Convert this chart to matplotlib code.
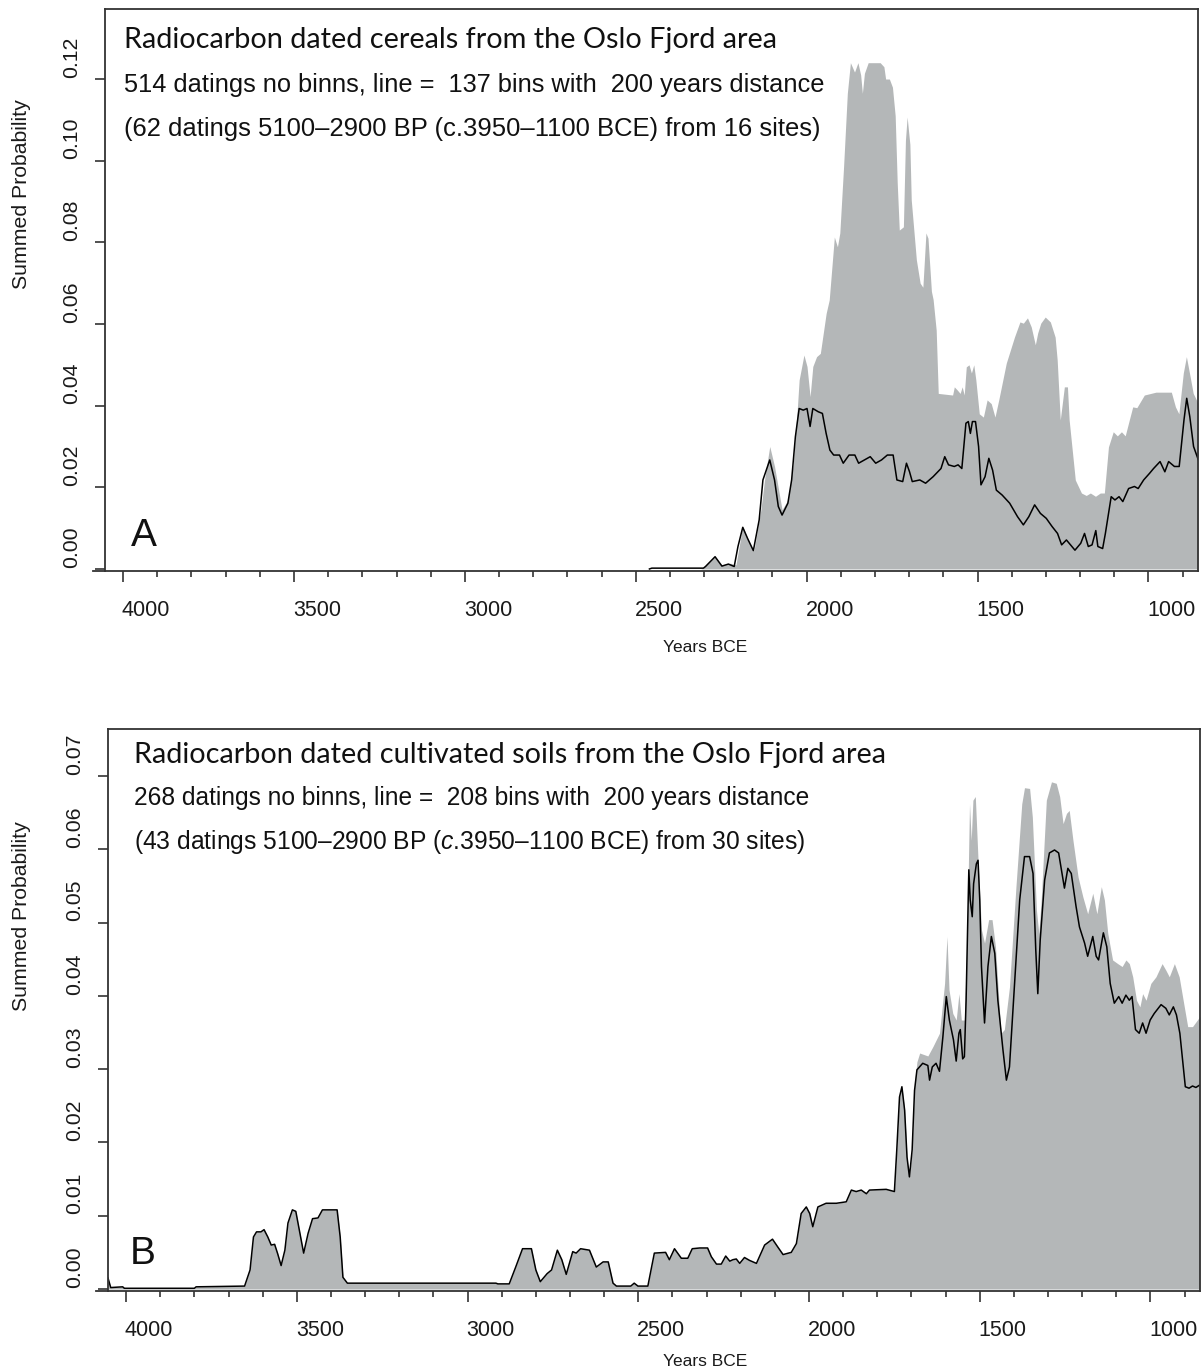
import numpy as np
import matplotlib.pyplot as plt
from matplotlib.transforms import ScaledTranslation

plt.rcParams['font.family'] = ['Liberation Sans', 'DejaVu Sans']
plt.rcParams['mathtext.fontset'] = 'custom'
plt.rcParams['mathtext.rm'] = 'Liberation Sans'
plt.rcParams['mathtext.it'] = 'Liberation Sans:italic'

# ---- panel A: cereals (years BCE, summed probability) ----
cereal_fill_years = [4053, 2310, 2302, 2268, 2248, 2223, 2207, 2187, 2167, 2154, 2134, 2122, 2108, 2094,
                     2072, 2055, 2039, 2027, 2022, 2008, 1999, 1990, 1982, 1971, 1960, 1943, 1934, 1919,
                     1910, 1903, 1892, 1881, 1872, 1860, 1850, 1842, 1837, 1831, 1820, 1808, 1785, 1774,
                     1769, 1758, 1749, 1741, 1735, 1729, 1717, 1711, 1706, 1698, 1694, 1679, 1668, 1660,
                     1651, 1645, 1635, 1630, 1621, 1615, 1573, 1568, 1559, 1551, 1545, 1539, 1533, 1525,
                     1518, 1511, 1505, 1495, 1483, 1472, 1460, 1449, 1438, 1416, 1392, 1376, 1366, 1354,
                     1343, 1331, 1324, 1315, 1302, 1287, 1273, 1267, 1258, 1246, 1237, 1232, 1214, 1196,
                     1182, 1170, 1155, 1141, 1129, 1117, 1103, 1091, 1079, 1068, 1056, 1046, 1034, 1012,
                     978, 933, 921, 911, 898, 889, 880, 869, 855]
cereal_fill_prob = [0, 0, 0.0003, 0.0030, 0.0010, 0.0014, 0.0010, 0.0105, 0.0063, 0.0045, 0.0145, 0.0226,
                    0.0300, 0.0251, 0.0145, 0.0169, 0.0259, 0.0397, 0.0463, 0.0524, 0.0496, 0.0422, 0.0496,
                    0.0520, 0.0528, 0.0626, 0.0659, 0.0813, 0.0789, 0.0823, 0.0985, 0.1165, 0.1240, 0.1217,
                    0.1240, 0.1210, 0.1165, 0.1214, 0.1240, 0.1240, 0.1240, 0.1230, 0.1200, 0.1200, 0.1180,
                    0.1110, 0.0945, 0.0830, 0.0838, 0.1050, 0.1107, 0.1040, 0.0904, 0.0757, 0.0700, 0.0690,
                    0.0823, 0.0810, 0.0680, 0.0660, 0.0585, 0.0430, 0.0426, 0.0446, 0.0438, 0.0430, 0.0446,
                    0.0426, 0.0495, 0.0500, 0.0480, 0.0500, 0.0463, 0.0380, 0.0372, 0.0414, 0.0405, 0.0372,
                    0.0414, 0.0504, 0.0568, 0.0605, 0.0602, 0.0615, 0.0593, 0.0549, 0.0578, 0.0602, 0.0617,
                    0.0605, 0.0568, 0.0512, 0.0365, 0.0446, 0.0446, 0.0365, 0.0218, 0.0186, 0.0180, 0.0186,
                    0.0178, 0.0186, 0.0186, 0.0299, 0.0336, 0.0326, 0.0336, 0.0326, 0.0365, 0.0397, 0.0395,
                    0.0426, 0.0433, 0.0433, 0.0397, 0.0380, 0.0480, 0.0520, 0.0480, 0.0430, 0.0406]

cereal_line_years = [2460, 2453, 2302, 2296, 2268, 2248, 2229, 2212, 2201, 2187, 2173, 2156, 2139, 2128,
                     2108, 2094, 2083, 2072, 2055, 2044, 2033, 2022, 2010, 1999, 1990, 1982, 1966, 1954,
                     1943, 1932, 1921, 1904, 1893, 1876, 1859, 1848, 1831, 1814, 1798, 1781, 1764, 1747,
                     1736, 1719, 1708, 1699, 1691, 1669, 1652, 1630, 1607, 1596, 1585, 1568, 1557, 1546,
                     1534, 1527, 1521, 1515, 1506, 1497, 1490, 1478, 1467, 1456, 1445, 1428, 1406, 1383,
                     1366, 1350, 1333, 1316, 1299, 1282, 1266, 1254, 1240, 1215, 1198, 1187, 1176, 1165,
                     1154, 1148, 1134, 1126, 1109, 1098, 1086, 1075, 1058, 1041, 1030, 1014, 997, 985,
                     966, 952, 941, 924, 910, 896, 888, 879, 868, 854]
cereal_line_prob = [0.0, 0.0002, 0.0002, 0.0006, 0.0030, 0.0007, 0.0012, 0.0006, 0.0055, 0.0102, 0.0075,
                    0.0045, 0.0120, 0.0218, 0.0267, 0.0218, 0.0153, 0.0132, 0.0161, 0.0218, 0.0324, 0.0393,
                    0.0389, 0.0393, 0.0349, 0.0393, 0.0385, 0.0381, 0.0332, 0.0291, 0.0279, 0.0279, 0.0259,
                    0.0279, 0.0279, 0.0259, 0.0267, 0.0275, 0.0259, 0.0267, 0.0279, 0.0279, 0.0218, 0.0214,
                    0.0259, 0.0238, 0.0214, 0.0218, 0.0210, 0.0226, 0.0246, 0.0275, 0.0255, 0.0251, 0.0255,
                    0.0246, 0.0357, 0.0361, 0.0332, 0.0361, 0.0361, 0.0300, 0.0206, 0.0226, 0.0271, 0.0242,
                    0.0193, 0.0181, 0.0161, 0.0128, 0.0108, 0.0128, 0.0157, 0.0136, 0.0124, 0.0104, 0.0087,
                    0.0059, 0.0071, 0.0046, 0.0063, 0.0087, 0.0055, 0.0059, 0.0094, 0.0055, 0.0050, 0.0087,
                    0.0177, 0.0169, 0.0177, 0.0165, 0.0197, 0.0202, 0.0197, 0.0218, 0.0234, 0.0246, 0.0263,
                    0.0238, 0.0263, 0.0251, 0.0251, 0.0365, 0.0418, 0.0373, 0.0300, 0.0267]

# ---- panel B: cultivated soils ----
# early part: unbinned fill and binned line coincide
soil_early_years = [4053, 4045, 4010, 4005, 3800, 3795, 3653, 3637, 3627, 3618, 3605, 3596, 3585, 3575,
                    3565, 3556, 3546, 3535, 3526, 3513, 3503, 3493, 3480, 3467, 3454, 3438, 3425, 3382,
                    3373, 3365, 3352, 2917, 2911, 2878, 2859, 2839, 2813, 2800, 2787, 2767, 2754, 2737,
                    2724, 2711, 2692, 2682, 2669, 2643, 2623, 2603, 2588, 2574, 2564, 2522, 2512, 2501,
                    2472, 2453, 2420, 2409, 2394, 2374, 2355, 2342, 2320, 2297, 2286, 2271, 2257, 2244,
                    2232, 2223, 2213, 2203, 2189, 2174, 2154, 2130, 2107, 2091, 2076, 2052, 2037, 2023,
                    2008, 1998, 1989, 1974, 1950, 1920, 1891, 1876, 1862, 1847, 1832, 1823, 1774, 1750,
                    1743, 1735, 1728, 1720, 1713, 1706, 1698]
soil_early_prob = [0.0015, 0.0002, 0.0003, 0.0001, 0.0001, 0.0003, 0.0004, 0.0026, 0.0071, 0.0078, 0.0078,
                   0.0081, 0.0071, 0.0060, 0.0061, 0.0048, 0.0032, 0.0053, 0.0090, 0.0108, 0.0106, 0.0081,
                   0.0049, 0.0076, 0.0096, 0.0097, 0.0108, 0.0108, 0.0071, 0.0016, 0.0008, 0.0008, 0.0007,
                   0.0007, 0.0030, 0.0055, 0.0055, 0.0026, 0.0010, 0.0021, 0.0026, 0.0053, 0.0040, 0.0020,
                   0.0051, 0.0049, 0.0055, 0.0053, 0.0030, 0.0037, 0.0037, 0.0008, 0.0004, 0.0004, 0.0008,
                   0.0004, 0.0004, 0.0049, 0.0050, 0.0040, 0.0055, 0.0042, 0.0042, 0.0055, 0.0056, 0.0056,
                   0.0044, 0.0034, 0.0034, 0.0045, 0.0038, 0.0040, 0.0041, 0.0035, 0.0043, 0.0039, 0.0035,
                   0.0060, 0.0068, 0.0057, 0.0047, 0.0050, 0.0062, 0.0103, 0.0112, 0.0103, 0.0085, 0.0112,
                   0.0117, 0.0117, 0.0119, 0.0135, 0.0133, 0.0135, 0.0130, 0.0135, 0.0136, 0.0133, 0.0190,
                   0.0262, 0.0276, 0.0244, 0.0180, 0.0153, 0.0190]

soil_fill_years = [1691, 1684, 1676, 1652, 1637, 1618, 1603, 1596, 1590, 1579, 1569, 1561, 1554, 1545,
                   1537, 1530, 1525, 1520, 1513, 1505, 1495, 1486, 1474, 1464, 1454, 1438, 1428, 1413,
                   1394, 1377, 1369, 1354, 1346, 1334, 1327, 1320, 1305, 1290, 1276, 1266, 1256, 1246,
                   1238, 1227, 1212, 1198, 1184, 1169, 1157, 1144, 1135, 1125, 1111, 1096, 1083, 1072,
                   1062, 1052, 1041, 1031, 1023, 1013, 999, 984, 966, 955, 945, 930, 916, 901, 891, 877, 855]
soil_fill_prob = [0.0280, 0.0310, 0.0322, 0.0318, 0.0331, 0.0349, 0.0417, 0.0481, 0.0408, 0.0376, 0.0367,
                  0.0403, 0.0367, 0.0367, 0.0485, 0.0662, 0.0612, 0.0667, 0.0672, 0.0585, 0.0490, 0.0472,
                  0.0504, 0.0504, 0.0467, 0.0349, 0.0354, 0.0412, 0.0549, 0.0662, 0.0684, 0.0683, 0.0644,
                  0.0517, 0.0485, 0.0531, 0.0667, 0.0692, 0.0690, 0.0672, 0.0635, 0.0649, 0.0653, 0.0612,
                  0.0562, 0.0535, 0.0512, 0.0540, 0.0512, 0.0549, 0.0531, 0.0485, 0.0449, 0.0444, 0.0440,
                  0.0449, 0.0444, 0.0426, 0.0394, 0.0385, 0.0403, 0.0394, 0.0417, 0.0426, 0.0444, 0.0435,
                  0.0426, 0.0444, 0.0426, 0.0385, 0.0358, 0.0358, 0.0372]

soil_line_years = [1691, 1684, 1667, 1652, 1647, 1639, 1628, 1618, 1608, 1598, 1589, 1577, 1569, 1561,
                   1557, 1550, 1545, 1540, 1532, 1528, 1522, 1518, 1510, 1505, 1500, 1495, 1486, 1476,
                   1466, 1456, 1447, 1432, 1422, 1413, 1398, 1383, 1369, 1354, 1344, 1336, 1330, 1323,
                   1310, 1296, 1281, 1269, 1259, 1252, 1242, 1232, 1218, 1208, 1193, 1184, 1169, 1159,
                   1152, 1138, 1128, 1118, 1106, 1093, 1083, 1072, 1062, 1054, 1044, 1033, 1023, 1013,
                   1001, 989, 969, 955, 945, 933, 924, 914, 906, 898, 887, 877, 867, 857]
soil_line_prob = [0.0271, 0.0299, 0.0308, 0.0305, 0.0285, 0.0303, 0.0308, 0.0297, 0.0344, 0.0399, 0.0367,
                  0.0340, 0.0311, 0.0349, 0.0354, 0.0314, 0.0317, 0.0394, 0.0572, 0.0531, 0.0508, 0.0553,
                  0.0580, 0.0585, 0.0531, 0.0440, 0.0363, 0.0440, 0.0481, 0.0458, 0.0394, 0.0326, 0.0285,
                  0.0303, 0.0417, 0.0531, 0.0590, 0.0590, 0.0567, 0.0463, 0.0403, 0.0476, 0.0558, 0.0595,
                  0.0599, 0.0595, 0.0567, 0.0547, 0.0574, 0.0567, 0.0522, 0.0494, 0.0472, 0.0454, 0.0481,
                  0.0454, 0.0449, 0.0486, 0.0467, 0.0417, 0.0390, 0.0399, 0.0390, 0.0401, 0.0394, 0.0399,
                  0.0354, 0.0349, 0.0363, 0.0349, 0.0367, 0.0376, 0.0388, 0.0383, 0.0374, 0.0385, 0.0374,
                  0.0349, 0.0313, 0.0276, 0.0274, 0.0277, 0.0275, 0.0278]

x_major = [4000, 3500, 3000, 2500, 2000, 1500, 1000]
x_minor = list(range(4000, 899, -100))
yticks_a = [0.00, 0.02, 0.04, 0.06, 0.08, 0.10, 0.12]
yticks_b = [0.00, 0.01, 0.02, 0.03, 0.04, 0.05, 0.06, 0.07]

titles = ["Radiocarbon dated cereals from the Oslo Fjord area",
          "Radiocarbon dated cultivated soils from the Oslo Fjord area"]
line2 = ["514 datings no binns, line =  137 bins with  200 years distance",
         "268 datings no binns, line =  208 bins with  200 years distance"]
line3 = ["(62 datings 5100\u20132900 BP (c.3950\u20131100 BCE) from 16 sites)",
         "(43 datings 5100\u20132900 BP ($c$.3950\u20131100 BCE) from 30 sites)"]
letters = ["A", "B"]

W, H = 1201, 1371
fill_col = '#b4b7b8'
frame_col = '#333333'
fig = plt.figure(figsize=(W / 100, H / 100), dpi=100)


def fx(x):
    return x / W


def fy(y):
    return 1 - y / H


def make_axes(l, t, r, b, ylim, yticks):
    ax = fig.add_axes([fx(l), fy(b), fx(r - l), (b - t) / H])
    ax.set_xlim(4053, 855)
    ax.set_ylim(*ylim)
    for s in ax.spines.values():
        s.set_color(frame_col)
        s.set_linewidth(1.3)
    ax.set_xticks(x_major)
    ax.set_xticks(x_minor, minor=True)
    ax.set_yticks(yticks)
    ax.set_yticklabels(['%.2f' % v for v in yticks])
    ax.tick_params(axis='x', which='major', length=8, width=1.2, color=frame_col,
                   labelsize=15.5, pad=13, labelcolor='#1a1a1a')
    ax.tick_params(axis='x', which='minor', length=4, width=1.2, color=frame_col)
    ax.tick_params(axis='y', length=7, width=1.2, color=frame_col, labelsize=15.3,
                   pad=10, labelrotation=90, labelcolor='#1a1a1a')
    for lbl in ax.get_yticklabels():
        lbl.set_va('center')
    # tick labels in the original sit a bit right / above their ticks
    dx = ScaledTranslation(0.23, 0, fig.dpi_scale_trans)
    dy = ScaledTranslation(0, 0.22, fig.dpi_scale_trans)
    for lbl in ax.get_xticklabels():
        lbl.set_transform(lbl.get_transform() + dx)
    for lbl in ax.get_yticklabels():
        lbl.set_transform(lbl.get_transform() + dy)
    # x axis line reaches a little past the frame on the left
    ax.plot([-0.011, 0], [0, 0], transform=ax.transAxes, clip_on=False,
            color=frame_col, lw=1.3)
    return ax


axA = make_axes(105, 9, 1198, 571, (-0.0005, 0.13715), yticks_a)
axA.fill_between(cereal_fill_years, cereal_fill_prob, 0, color=fill_col, lw=0)
axA.plot(cereal_line_years, cereal_line_prob, color='black', lw=1.1)

axB = make_axes(108, 729, 1200, 1291, (-0.00027, 0.07641), yticks_b)
fill_y = soil_early_years + soil_fill_years
fill_p = soil_early_prob + soil_fill_prob
line_y = soil_early_years + soil_line_years
line_p = soil_early_prob + soil_line_prob
axB.fill_between(fill_y, fill_p, 0, color=fill_col, lw=0)
axB.plot(line_y, line_p, color='black', lw=1.1)

# texts
renderer = fig.canvas.get_renderer()


def fit(txt, width):
    bb = txt.get_window_extent(renderer)
    txt.set_fontsize(txt.get_fontsize() * width / bb.width)


layout = [
    # (x, baselines, widths, letter, letter baseline, letter x)
    (124, [48, 92, 136], [654, 702, 698], 'A', 546, 131),
    (134, [763, 805, 849], [754, 677, 673], 'B', 1264, 130),
]
for i, (x0, bls, wids, letter, lb, lx) in enumerate(layout):
    t1 = fig.text(fx(x0), fy(bls[0]), titles[i], family=['Lato', 'DejaVu Sans'],
                  fontsize=19, va='baseline', ha='left', color='#111111')
    t2 = fig.text(fx(x0), fy(bls[1]), line2[i], fontsize=17, va='baseline', ha='left', color='#111111')
    t3 = fig.text(fx(x0), fy(bls[2]), line3[i], fontsize=17, va='baseline', ha='left', color='#111111')
    for t, w in zip((t1, t2, t3), wids):
        fit(t, w)
    fig.text(fx(lx), fy(lb), letter, fontsize=28, va='baseline', ha='left', color='#111111')

fig.text(fx(22), fy(194), 'Summed Probability', rotation=90, fontsize=15.3,
         ha='center', va='center', color='#1a1a1a')
fig.text(fx(22), fy(916), 'Summed Probability', rotation=90, fontsize=15.3,
         ha='center', va='center', color='#1a1a1a')
fig.text(fx(705), fy(647), 'Years BCE', fontsize=12.5, ha='center', va='center', color='#1a1a1a')
fig.text(fx(705), fy(1361), 'Years BCE', fontsize=12.5, ha='center', va='center', color='#1a1a1a')

fig.savefig('out.png', dpi=100)
